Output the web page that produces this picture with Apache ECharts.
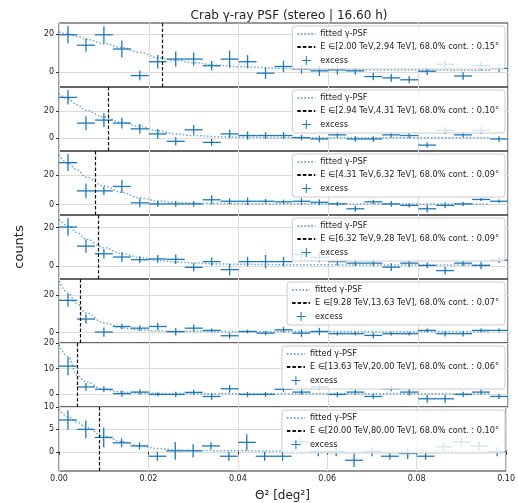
<!DOCTYPE html>
<html>
<head>
<meta charset="utf-8">
<script src="https://cdn.jsdelivr.net/npm/echarts@6/dist/echarts.min.js"></script>
<style>
  html, body { margin: 0; padding: 0; background: #fff; }
  #psf_box { width: 518px; height: 503px; }
</style>
</head>
<body>
<div id="psf_box"></div>
<script>
// theta^2 bin centres (deg^2), last one lies just past the axis end
const binCenters = [0.002, 0.006, 0.010, 0.014, 0.018, 0.022, 0.026, 0.030, 0.034, 0.038,
  0.042, 0.046, 0.050, 0.054, 0.058, 0.062, 0.066, 0.070, 0.074, 0.078,
  0.082, 0.086, 0.090, 0.094, 0.098, 0.102];
const binHalfWidth = 0.002;

const energyBins = ['2.00 TeV,2.94 TeV', '2.94 TeV,4.31 TeV', '4.31 TeV,6.32 TeV', '6.32 TeV,9.28 TeV',
  '9.28 TeV,13.63 TeV', '13.63 TeV,20.00 TeV', '20.00 TeV,80.00 TeV'];
const containment = ['0.15', '0.10', '0.09', '0.09', '0.07', '0.06', '0.10'];
const contTheta2 = [0.0229, 0.0109, 0.0081, 0.0088, 0.0048, 0.0041, 0.0091];

const excess1 = [19.5, 14, 19.5, 12, -2, 5.3, 6.7, 6.7, 3.2, 6.7, 5.3, -0.7, 2.8, 1.5, 0.5, 1, 0.5, -2.5, -3.2, -4.2, 0.3, 4, -2.2, 3.2, 1.8, 2.3];
const err1 = [4.5, 3.5, 4.5, 4.5, 2.5, 3.5, 4, 3.5, 2.5, 4.5, 3.5, 3, 3, 2.5, 2.7, 2.5, 2, 2, 2, 1.8, 2, 2.5, 2, 2.5, 2, 2];
const excess2 = [29.9, 11.1, 13.3, 11.1, 6.9, 3.2, -2.2, 6.2, -3, 3.2, 2, 2, 2, 0.5, -0.5, 2.5, -0.5, -0.5, 2.5, 2, -5, 5.7, 2.5, 5.7, -0.5, -0.5];
const err2 = [5.2, 5, 5, 4, 3.5, 3.5, 3, 3.5, 2.5, 3, 3, 2.5, 2.5, 2, 2.5, 2, 2, 2, 2, 2, 2, 2.5, 1.5, 2.5, 2, 2];
const excess3 = [28.4, 9.3, 9.3, 12.3, 1.2, 0.5, 0.5, 0.5, 3.3, 2.3, 2.3, 2.3, 1.9, 2.3, 1.6, 0.5, -2.8, 1.9, 0.5, -0.5, -2.8, -0.5, 0.5, 3.5, 2.3, 2.3];
const err3 = [5.7, 5, 3, 4.5, 3, 2, 2, 2, 3, 2, 2.5, 1.5, 1.5, 2.5, 2, 1.5, 2, 1.5, 2, 1.5, 2.5, 2, 1.5, 1, 1.2, 1.2];
const excess4 = [20.3, 10.3, 6.3, 4.6, 3.2, 3.6, 3.4, -0.8, 2.2, -2, 2.2, 2.2, 2.2, 6, 4.4, 2.2, 1.4, 1.4, -0.7, 1.4, 0.2, -2.5, 1.4, 0.2, 3, 3.4];
const err4 = [4.6, 3.5, 2.5, 2.5, 1.8, 2, 2.5, 2.2, 2.2, 3, 2.5, 3.5, 2.5, 2.5, 2.5, 2, 1.5, 1.5, 2, 2, 1.5, 2, 1.5, 2, 1.5, 1.5];
const excess5 = [17.3, 7.2, 0.2, 3.2, 2.3, 3.2, 0.4, 2.3, 1.1, -1.8, 0.5, -0.4, 1.4, -0.4, 0.5, -0.7, -0.7, -1.6, -0.7, -0.7, 1.1, -0.7, -0.7, 1.1, 1.1, 1.1];
const err5 = [3.5, 2.5, 2.5, 1.5, 1.5, 2, 2, 2, 1, 1.5, 1, 1.2, 1.5, 2, 2, 1, 1, 1.5, 1, 1, 1, 1.5, 1.5, 1, 1, 1];
const excess6 = [11, 2.9, 2, 0.3, 0.9, 0, 0, 0.8, -0.8, 2.2, 0, 0, 2, 0.9, 2.9, 0, 0.9, -0.8, 2.2, 0.9, -1.7, -1.7, 0, 0.9, -0.8, -0.8];
const err6 = [3.5, 1.5, 1.2, 1.2, 1, 0.7, 1, 1, 1.3, 1.5, 1, 1, 1, 1, 1, 1, 1, 1, 1, 1.3, 1.5, 1.5, 1, 1, 1, 1];
const excess7 = [7.1, 5, 3.2, 2, 1.3, -1, 0.2, 0.2, 1.3, -1, 2.1, -1, -1, 2.2, 0, 0, -1.9, 0, -1, -0.4, -1, 1.1, 2.2, 1.3, 0, 0.2];
const err7 = [2.2, 2, 2.2, 1, 0.8, 1, 2, 1.5, 0.8, 1, 1.8, 1, 1, 1, 1, 1, 1.5, 1, 0.8, 1.2, 0.8, 1, 1, 1, 1, 1];

// fitted PSF at these theta^2 values
const curveX = [0, 0.002, 0.004, 0.006, 0.010, 0.014, 0.018, 0.022, 0.026, 0.030, 0.035, 0.040, 0.050, 0.060, 0.070, 0.080, 0.096];
const curve1 = [21, 20, 18.6, 17.2, 14.8, 12.8, 10.2, 7.4, 6.0, 4.8, 3.5, 2.7, 1.8, 1.2, 1.0, 0.9, 0.85];
const curve2 = [32.8, 29, 24.5, 20.5, 15.5, 11.8, 8.6, 5.4, 3.2, 2.0, 1.2, 0.8, 0.5, 0.4, 0.35, 0.3, 0.3];
const curve3 = [33.7, 28, 23.5, 18.6, 12.6, 8.2, 4.6, 2.5, 1.5, 1.0, 0.8, 0.7, 0.6, 0.55, 0.5, 0.5, 0.5];
const curve4 = [24.2, 21, 17.5, 14, 9.5, 6.3, 4.4, 2.9, 2.0, 1.5, 1.0, 0.8, 0.6, 0.5, 0.45, 0.4, 0.4];
const curve5 = [27.6, 21.3, 15.5, 10.5, 5.2, 2.5, 1.3, 0.8, 0.65, 0.6, 0.55, 0.5, 0.5, 0.5, 0.5, 0.5, 0.5];
const curve6 = [19.3, 14.7, 7.5, 4.9, 1.8, 0.9, 0.5, 0.4, 0.35, 0.3, 0.3, 0.3, 0.3, 0.3, 0.3, 0.3, 0.3];
const curve7 = [9.5, 7.8, 6.6, 5.5, 3.5, 2.3, 1.3, 0.75, 0.45, 0.3, 0.25, 0.2, 0.15, 0.15, 0.15, 0.15, 0.15];

const yMin = [-8, -9.3, -7, -6.9, -5.7, -4.9, -4.3];
const yMax = [25.7, 37.5, 36.3, 26.6, 28.8, 20, 10];
const yTicks = [[0, 20], [0, 20], [0, 20], [0, 20], [0, 20], [0, 10, 20], [0, 5, 10]];
const xTicks = [0, 0.02, 0.04, 0.06, 0.08, 0.10];

const excessList = [excess1, excess2, excess3, excess4, excess5, excess6, excess7];
const errList = [err1, err2, err3, err4, err5, err6, err7];
const curveList = [curve1, curve2, curve3, curve4, curve5, curve6, curve7];

const blue = '#1f77b4';
const font = 'DejaVu Sans';
const panelTop = 23;
const panelH = 64;
const plusIcon = 'path://M4.45,0h1.1v4.45h4.45v1.1h-4.45v4.45h-1.1v-4.45h-4.45v-1.1h4.45z';

function renderErrorbar(params, api) {
    let x = api.value(0), y = api.value(1), e = api.value(2);
    let l = api.coord([x - binHalfWidth, y]);
    let r = api.coord([x + binHalfWidth, y]);
    let t = api.coord([x, y + e]);
    let b = api.coord([x, y - e]);
    let style = {stroke: blue, lineWidth: 1.3, fill: null};
    return {
        type: 'group',
        children: [
            {type: 'line', shape: {x1: l[0], y1: l[1], x2: r[0], y2: r[1]}, style: style},
            {type: 'line', shape: {x1: t[0], y1: t[1], x2: b[0], y2: b[1]}, style: style}
        ]
    };
}

let grids = [], xAxes = [], yAxes = [], legends = [], series = [];
for (let i = 0; i < 7; i++) {
    let top = panelTop + i * panelH;
    let last = i === 6;
    let eName = 'E \u2208[' + energyBins[i] + '], 68.0% cont. : ' + containment[i] + '\u00b0';
    grids.push({
        left: 59, right: 10, top: top, height: panelH,
        show: true, borderColor: '#333', borderWidth: 1, backgroundColor: 'transparent'
    });
    xAxes.push({
        gridIndex: i, type: 'value', min: 0, max: 0.1, interval: 0.02,
        axisLine: {show: false},
        axisTick: {show: last, length: 3, lineStyle: {color: '#333'}},
        axisLabel: {
            show: last, fontSize: 8, color: '#222', fontFamily: font, margin: 4,
            customValues: xTicks, formatter: v => v.toFixed(2)
        },
        splitLine: {show: true, lineStyle: {color: '#dcdcdc', width: 1}},
        name: last ? '\u0398\u00b2 [deg\u00b2]' : '',
        nameLocation: 'middle', nameGap: 19,
        nameTextStyle: {fontSize: 12, color: '#222', fontFamily: font}
    });
    yAxes.push({
        gridIndex: i, type: 'value', min: yMin[i], max: yMax[i],
        axisLine: {show: false},
        axisTick: {show: true, length: 3, customValues: yTicks[i], lineStyle: {color: '#333'}},
        axisLabel: {fontSize: 8, color: '#222', fontFamily: font, margin: 5, customValues: yTicks[i]},
        splitLine: {show: true, lineStyle: {color: '#dcdcdc', width: 1.2}},
        name: i === 3 ? 'counts' : '',
        nameLocation: 'middle', nameGap: 33,
        nameTextStyle: {fontSize: 13, color: '#222', fontFamily: font}
    });
    legends.push({
        top: top + 3, right: 13, orient: 'vertical', selectedMode: false,
        backgroundColor: 'rgba(255,255,255,0.8)', borderColor: '#ccc', borderWidth: 1, borderRadius: 3,
        padding: [4, 6, 4, 4], itemWidth: 18, itemHeight: 9, itemGap: 5,
        itemStyle: {opacity: 0},
        textStyle: {fontSize: 8.2, color: '#222', fontFamily: font},
        data: [
            {name: 'fitted \u03b3-PSF'},
            {name: eName},
            {name: 'excess', icon: plusIcon, itemStyle: {opacity: 1, color: blue}}
        ]
    });
    series.push({
        name: 'fitted \u03b3-PSF', type: 'line', xAxisIndex: i, yAxisIndex: i,
        data: curveX.map((x, k) => [x, curveList[i][k]]),
        smooth: 0.4, smoothMonotone: 'x', symbol: 'none', silent: true,
        lineStyle: {color: 'rgba(31,119,180,0.65)', width: 1.5, type: [1.5, 2]},
        itemStyle: {color: 'rgba(31,119,180,0.65)'}
    });
    series.push({
        name: eName, type: 'line', xAxisIndex: i, yAxisIndex: i, data: [],
        symbol: 'none', silent: true,
        lineStyle: {color: '#111', width: 1.2, type: [3.5, 2]},
        itemStyle: {color: '#111'},
        markLine: {
            silent: true, symbol: 'none', label: {show: false}, precision: 6,
            lineStyle: {color: '#111', width: 1.2, type: [3.5, 2]},
            data: [{xAxis: contTheta2[i]}]
        }
    });
    series.push({
        name: 'excess', type: 'custom', xAxisIndex: i, yAxisIndex: i, clip: true, silent: true,
        itemStyle: {color: blue},
        encode: {x: 0, y: 1},
        data: binCenters.map((x, k) => [x, excessList[i][k], errList[i][k]]),
        renderItem: renderErrorbar
    });
}

let chart = echarts.init(document.getElementById('psf_box'));
chart.setOption({
    animation: false,
    title: {
        text: 'Crab \u03b3-ray PSF (stereo | 16.60 h)', left: 284, top: 5, textAlign: 'center',
        textStyle: {fontSize: 12, fontWeight: 'normal', color: '#222', fontFamily: font}
    },
    grid: grids,
    xAxis: xAxes,
    yAxis: yAxes,
    legend: legends,
    series: series
});
</script>
</body>
</html>
